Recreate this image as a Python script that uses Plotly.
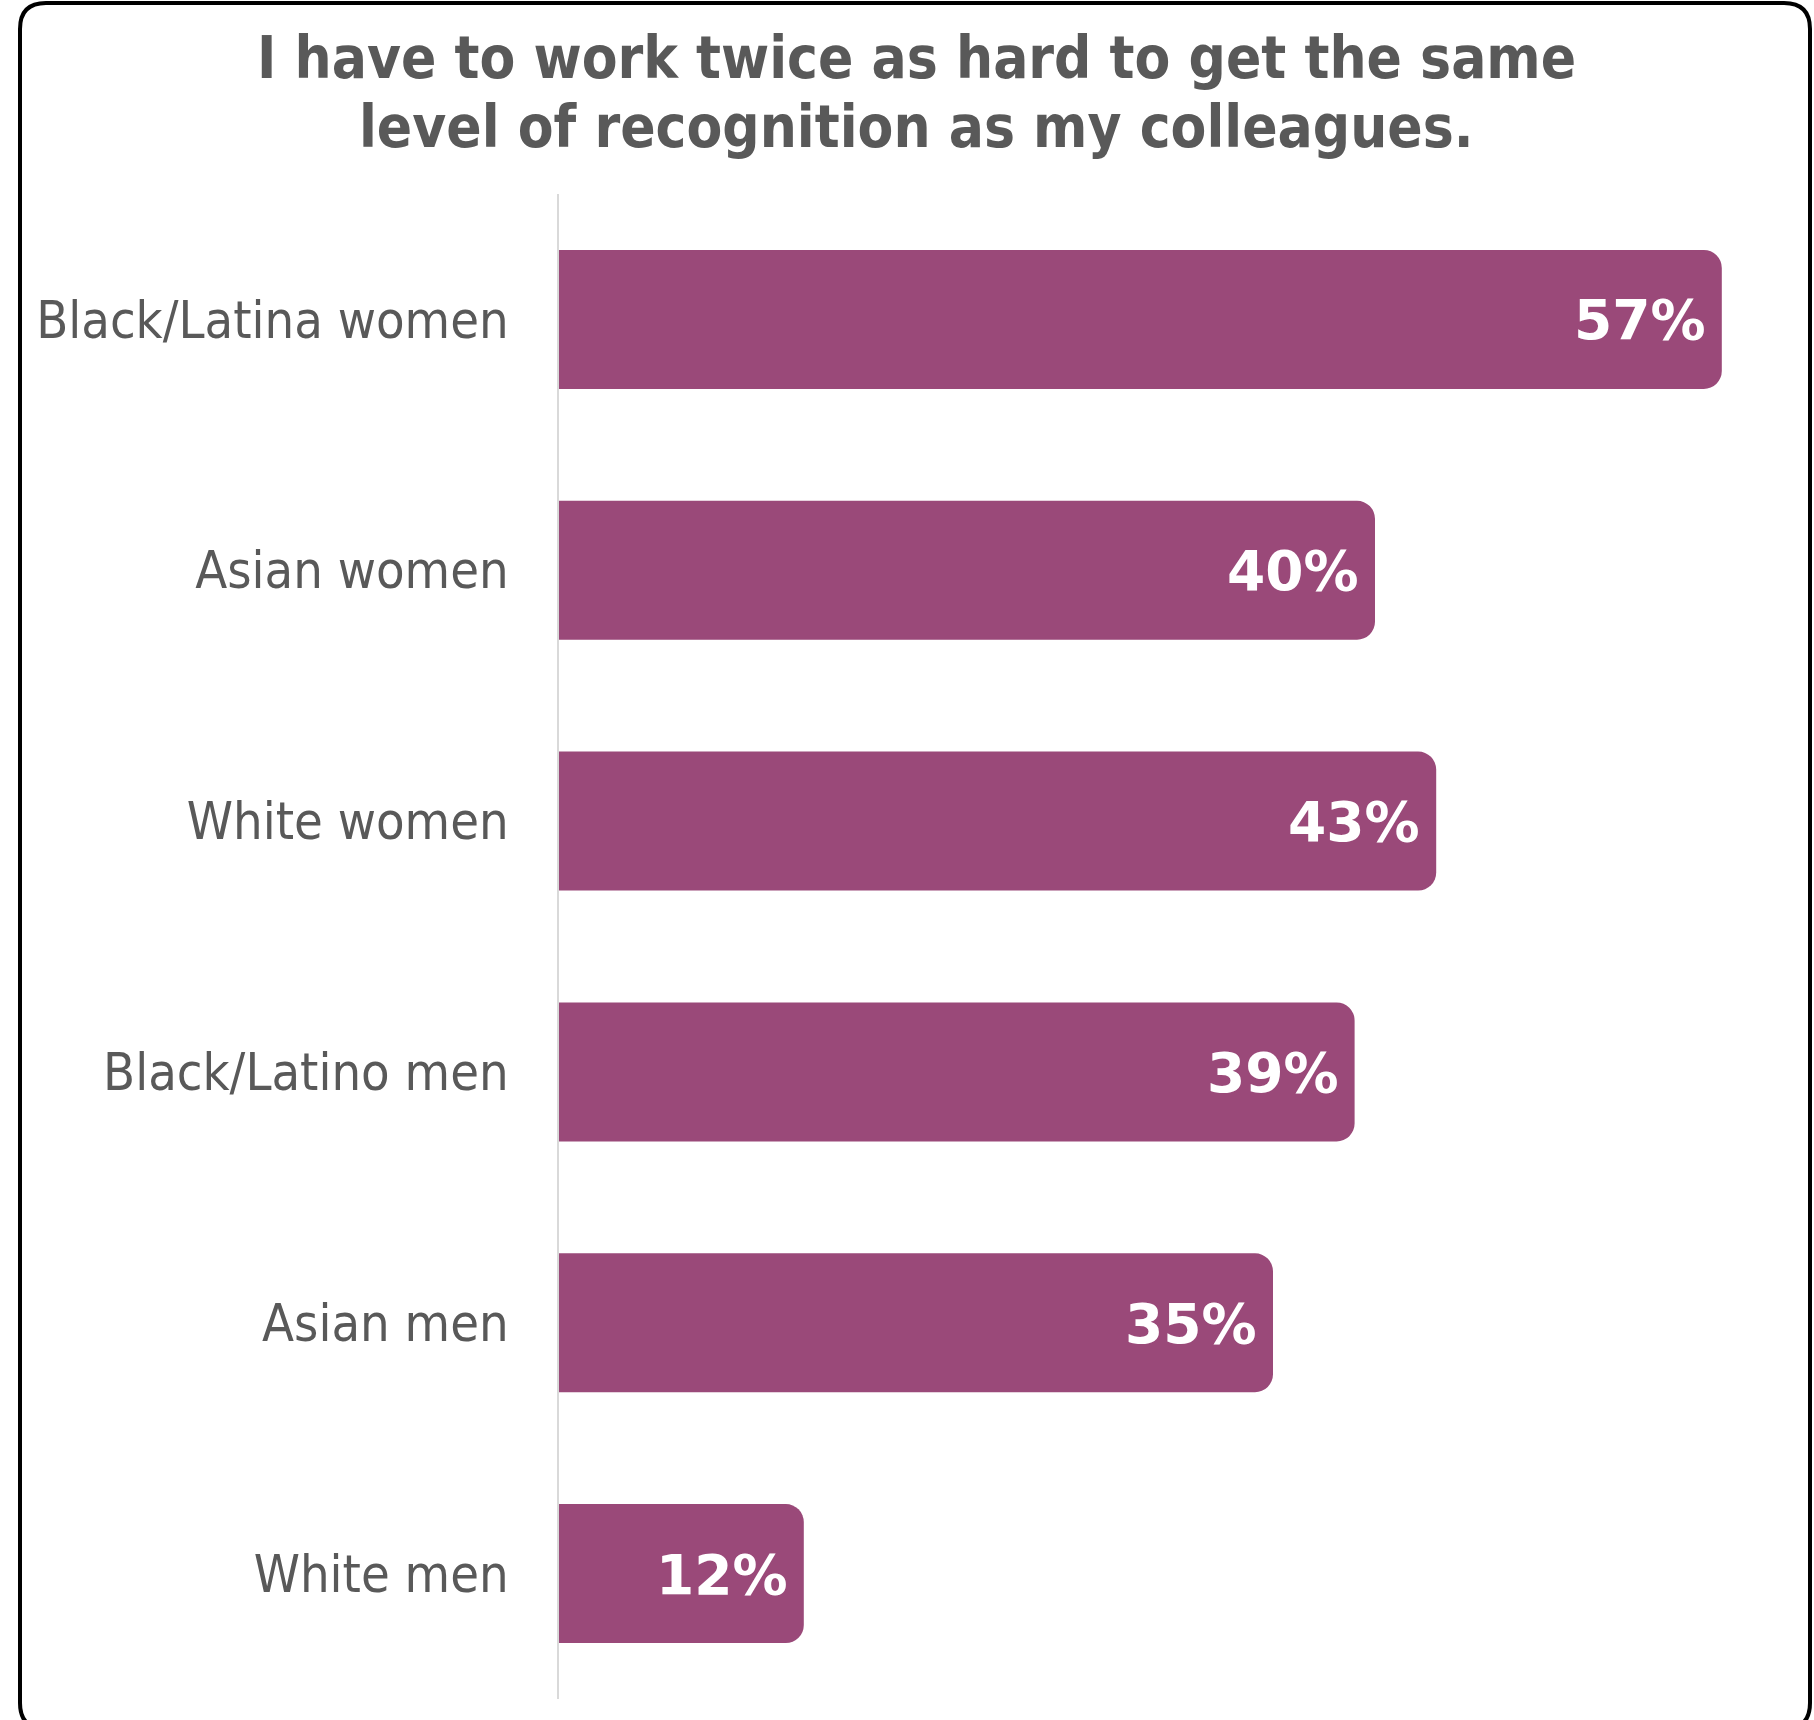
import plotly.graph_objects as go

# Survey results
categories = ["Black/Latina women", "Asian women", "White women",
              "Black/Latino men", "Asian men", "White men"]
values = [57, 40, 43, 39, 35, 12]
value_labels = ["57%", "40%", "43%", "39%", "35%", "12%"]

title_lines = ["I have to work twice as hard to get the same",
               "level of recognition as my colleagues."]

BAR_COLOR = "#9A4979"
TEXT_GRAY = "#595959"
COND = "DejaVu Sans Condensed, DejaVu Sans, sans-serif"

# canvas / plot-area geometry (pixels)
FIG_W, FIG_H = 1814, 1720
M_L, M_R, M_T, M_B = 559, 31, 194, 21
PLOT_W = FIG_W - M_L - M_R
PLOT_H = FIG_H - M_T - M_B


def px_x(px):
    return (px - M_L) / PLOT_W


def px_y(py):
    return (FIG_H - M_B - py) / PLOT_H


fig = go.Figure()
fig.add_trace(go.Bar(
    x=values,
    y=categories,
    orientation="h",
    marker=dict(color=BAR_COLOR, line=dict(width=0)),
    hoverinfo="skip",
))

# value labels at the inner end of each bar
for cat, val, lab in zip(categories, values, value_labels):
    fig.add_annotation(
        x=val, y=cat, xref="x", yref="y",
        text=f"<b>{lab}</b>", showarrow=False,
        xanchor="right", yanchor="middle", xshift=-14, yshift=-1,
        font=dict(family="DejaVu Sans, sans-serif", size=55, color="white"),
    )

# two-line title
for line, py in zip(title_lines, [58, 127]):
    fig.add_annotation(
        x=px_x(916), y=px_y(py), xref="paper", yref="paper",
        text=f"<b>{line}</b>", showarrow=False,
        xanchor="center", yanchor="middle",
        font=dict(family=COND, size=58, color=TEXT_GRAY),
    )

# rounded frame around the whole chart (bottom edge runs just past the canvas)
x0, x1 = px_x(20), px_x(1810)
y0, y1 = px_y(3), px_y(1729)
rx = 26 / PLOT_W
ry = 26 / PLOT_H
frame = (
    f"M {x0 + rx},{y0} L {x1 - rx},{y0} Q {x1},{y0} {x1},{y0 - ry} "
    f"L {x1},{y1 + ry} Q {x1},{y1} {x1 - rx},{y1} "
    f"L {x0 + rx},{y1} Q {x0},{y1} {x0},{y1 + ry} "
    f"L {x0},{y0 - ry} Q {x0},{y0} {x0 + rx},{y0} Z"
)
fig.add_shape(type="path", path=frame, xref="paper", yref="paper",
              line=dict(color="black", width=4), fillcolor="rgba(0,0,0,0)",
              layer="above")

fig.update_layout(
    width=FIG_W, height=FIG_H,
    margin=dict(l=M_L, r=M_R, t=M_T, b=M_B, pad=0),
    paper_bgcolor="white", plot_bgcolor="white",
    showlegend=False,
    bargap=0.446,
    barcornerradius=18,
    xaxis=dict(range=[0, PLOT_W / 20.4], showgrid=False, zeroline=False,
               showticklabels=False, showline=False, fixedrange=True),
    yaxis=dict(autorange=False, range=[5.5, -0.5], showgrid=False,
               zeroline=False, showline=True, linecolor="#D9D9D9",
               linewidth=2, ticks="", ticklabelstandoff=38,
               tickfont=dict(family=COND, size=52, color=TEXT_GRAY),
               fixedrange=True),
)

fig.write_html("out.html")
